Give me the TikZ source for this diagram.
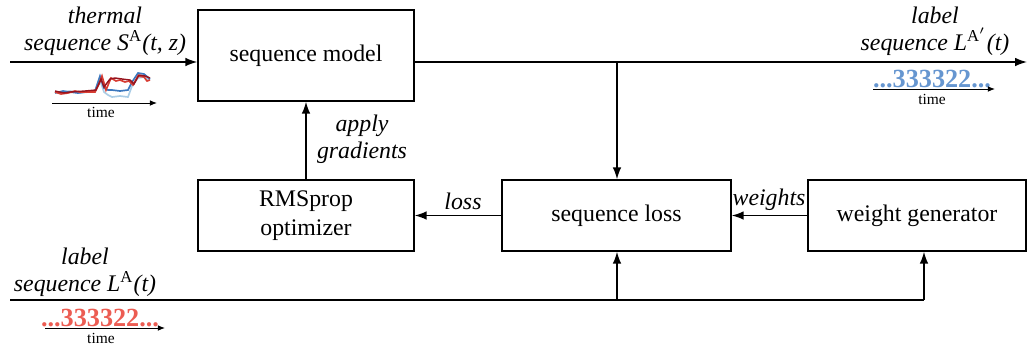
\documentclass[tikz,border=0pt]{standalone}
\usepackage{fontspec}
\setmainfont{Liberation Serif}
\usepackage{xcolor}
\usetikzlibrary{arrows.meta, positioning, calc}

\definecolor{lblblue}{RGB}{102,150,208}
\definecolor{lblred}{RGB}{236,92,82}
\definecolor{sdark}{RGB}{150,20,30}
\definecolor{sred}{RGB}{215,60,50}
\definecolor{sblue}{RGB}{60,120,190}
\definecolor{slight}{RGB}{170,205,230}

\begin{document}
\begin{tikzpicture}[x=0.42pt, y=-0.42pt, >={Latex[length=5pt, width=3.6pt]},
  box/.style={rectangle, draw, line width=0.6pt, align=center, font=\fontsize{10}{12}\selectfont, inner sep=0pt},
  wire/.style={line width=0.6pt},
  lbl/.style={font=\fontsize{10}{11.5}\selectfont\itshape, align=center, inner sep=1pt},
  tiny/.style={font=\fontsize{6.5}{7}\selectfont, inner sep=0pt},
  digits/.style={font=\fontsize{11}{12}\selectfont\bfseries, inner sep=0pt}]
  \useasboundingbox (0,0) rectangle (1027,345);

  % blocks
  \node[box, minimum width=90.7pt, minimum height=38.2pt] (model) at (306,55.5) {sequence model};
  \node[box, minimum width=90.7pt, minimum height=29.8pt] (opt) at (306,215.5) {RMSprop\\optimizer};
  \node[box, minimum width=96.2pt, minimum height=29.8pt] (loss) at (616.5,215.5) {sequence loss};
  \node[box, minimum width=91.6pt, minimum height=29.8pt] (wgen) at (917,215.5) {weight generator};

  % free ends and branch points
  \coordinate (in) at (10,62);
  \coordinate (out) at (1027,62);
  \coordinate (tap) at (617,62);
  \coordinate (lin) at (10,300);
  \coordinate (ltap) at (617,300);
  \coordinate (wtap) at (924,300);

  % connectors
  \draw[wire, ->] (in) -- (in -| model.west);
  \draw[wire, ->] (out -| model.east) -- (out);
  \draw[wire, ->] (tap) -- (tap |- loss.north);
  \draw[wire, ->] (opt.north) -- (model.south);
  \draw[wire, ->] (loss.west) -- (opt.east);
  \draw[wire, ->] (wgen.west) -- (loss.east);
  \draw[wire] (lin) -- (wtap);
  \draw[wire, ->] (ltap) -- (ltap |- loss.south);
  \draw[wire, ->] (wtap) -- (wtap |- wgen.south);

  % labels
  \node[lbl] (thermal) at (105,31) {thermal\\sequence S\textsuperscript{\upshape A}(t, z)};
  \node[lbl] (outlbl) at (935,31) {label\\sequence L\textsuperscript{\upshape A$'$}(t)};
  \node[lbl] (inlbl) at (85,272) {label\\sequence L\textsuperscript{\upshape A}(t)};
  \node[lbl] (apply) at (362,139) {apply\\gradients};
  \node[lbl, anchor=south] (losslbl) at (463,213) {loss};
  \node[lbl, anchor=south] (wlbl) at (769,213) {weights};

  % thermal sequence sketch
  \draw[slight, line width=0.7pt] (55,92) -- (62,93) -- (70,91) -- (80,93) -- (88,92) -- (95,92) -- (100,80) -- (104,92) -- (108,95) -- (112,97) -- (120,96) -- (128,97) -- (132,86) -- (138,78) -- (144,77) -- (150,80);
  \draw[sblue, line width=0.7pt] (55,93) -- (63,91) -- (70,92) -- (78,93) -- (85,92) -- (95,91) -- (100,76) -- (104,88) -- (108,90) -- (112,90) -- (120,91) -- (128,90) -- (132,82) -- (138,73) -- (144,74) -- (150,79);
  \draw[sred, line width=0.7pt] (55,92) -- (61,94) -- (68,93) -- (75,91) -- (80,92) -- (95,92) -- (99,84) -- (102,76) -- (106,90) -- (111,78) -- (116,81) -- (120,80) -- (125,82) -- (129,81) -- (133,85) -- (138,76) -- (144,77) -- (147,81) -- (150,80);
  \draw[sdark, line width=0.6pt] (55,91) -- (64,93) -- (70,92) -- (85,91) -- (96,90) -- (101,79) -- (104,87) -- (110,79) -- (115,78) -- (122,79) -- (130,80) -- (134,84) -- (139,75) -- (145,76) -- (150,78);
  \coordinate (t1a) at (52,103);
  \coordinate (t1b) at (157,103);
  \draw[line width=0.4pt, -{Latex[length=3pt, width=2.4pt]}] (t1a) -- (t1b);
  \node[tiny] (time1) at (101,112) {time};

  % output labels
  \node[digits, text=lblblue] (outdig) at (932,79) {...333322...};
  \coordinate (t2a) at (873,89);
  \coordinate (t2b) at (995,89);
  \draw[line width=0.4pt, -{Latex[length=3pt, width=2.4pt]}] (t2a) -- (t2b);
  \node[tiny] (time2) at (932,99) {time};

  % input labels
  \node[digits, text=lblred] (indig) at (100,318) {...333322...};
  \coordinate (t3a) at (45,328);
  \coordinate (t3b) at (165,328);
  \draw[line width=0.4pt, -{Latex[length=3pt, width=2.4pt]}] (t3a) -- (t3b);
  \node[tiny] (time3) at (101,338) {time};
\end{tikzpicture}
\end{document}
